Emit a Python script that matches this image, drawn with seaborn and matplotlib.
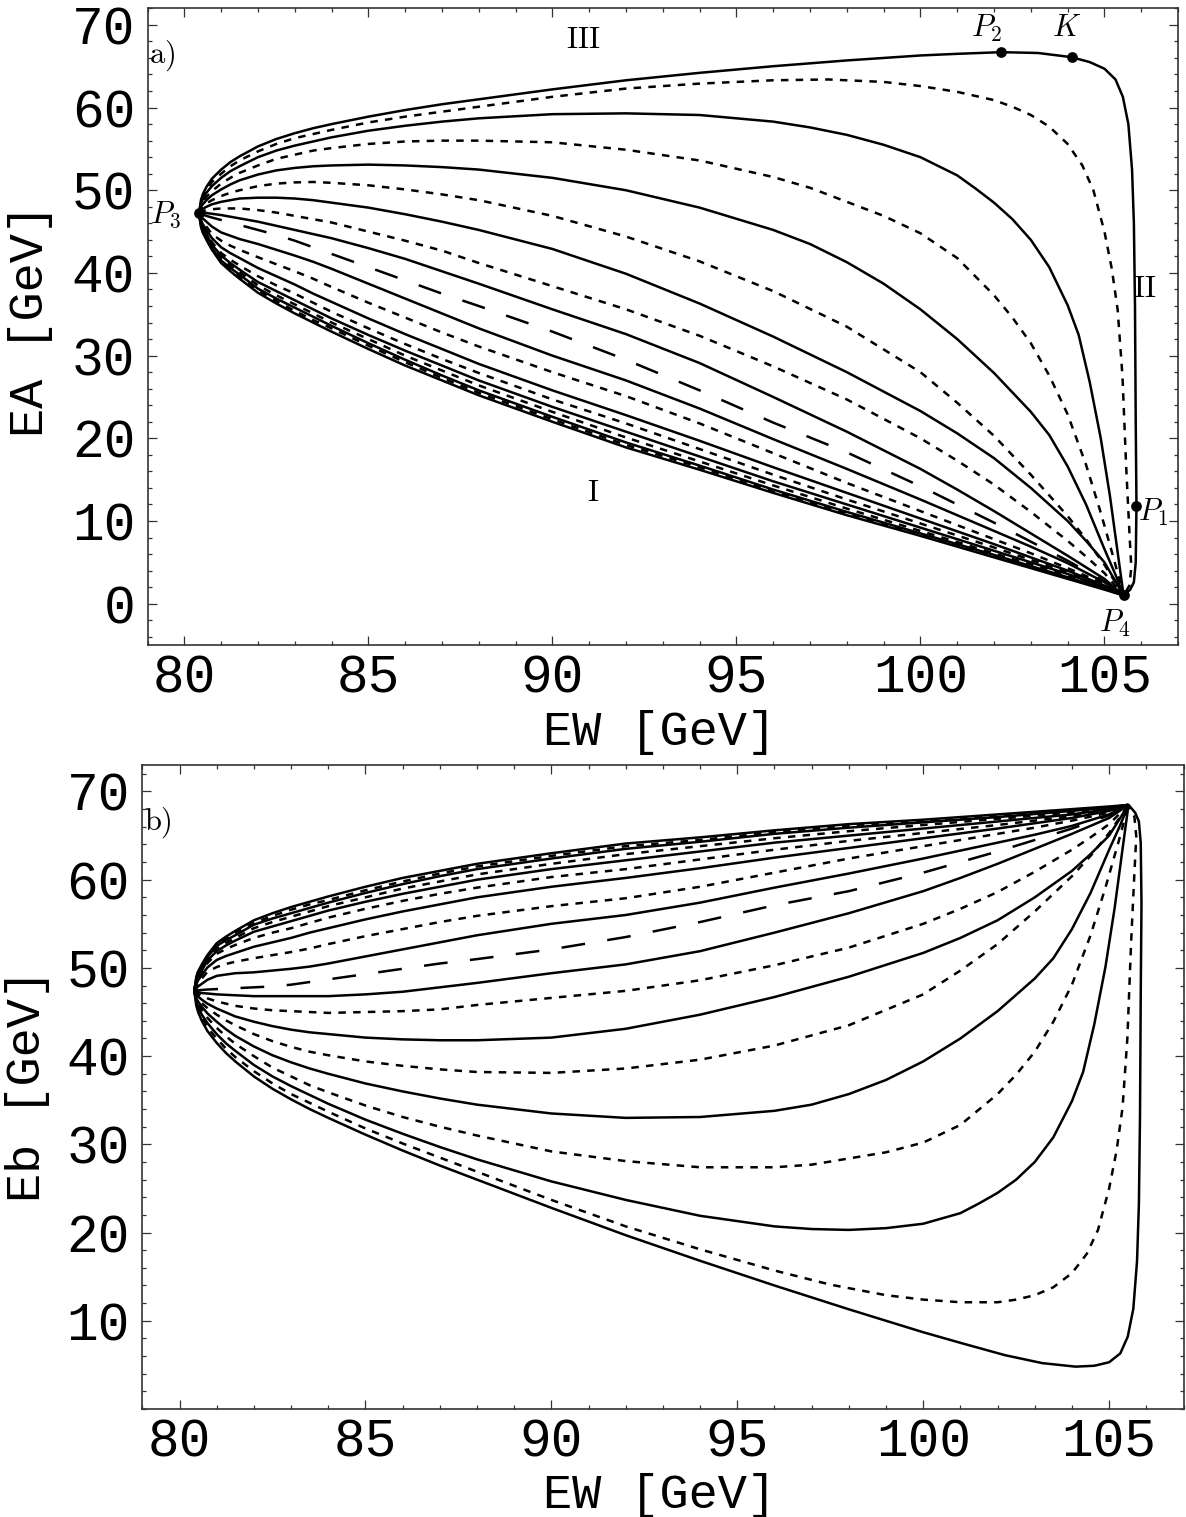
import matplotlib
matplotlib.use("Agg")
import matplotlib.pyplot as plt
import seaborn as sns
from matplotlib.ticker import MultipleLocator, FixedLocator

# ---------------- data ----------------
# common EW grid (GeV) for the curves that end smoothly at P4
ew_grid = [80.4, 80.45, 80.5, 80.6, 80.75, 81.0, 81.25, 81.5, 82.0, 82.5, 83.0, 83.5, 84.0, 85.0,
           86.0, 87.0, 88.0, 90.0, 92.0, 94.0, 96.0, 98.0, 100.0, 101.0, 102.0, 103.0, 104.0,
           104.5, 105.0, 105.52]

# panel a) : EA on ew_grid
ea_sm9 = [47.2, 45.6, 44.9, 44.0, 42.8, 41.2, 40.2, 39.3, 37.6, 36.3, 35.1, 34.0, 32.9, 30.8, 28.8, 27.0, 25.2, 22.0, 18.9, 16.2, 13.4, 10.7, 8.2, 6.9, 5.6, 4.3, 3.0, 2.35, 1.7, 1.0]
ea_dm8 = [47.2, 45.7, 45.0, 44.15, 42.9, 41.4, 40.4, 39.5, 37.9, 36.6, 35.4, 34.3, 33.3, 31.2, 29.2, 27.3, 25.5, 22.3, 19.2, 16.5, 13.6, 10.9, 8.4, 7.1, 5.8, 4.45, 3.1, 2.45, 1.8, 1.0]
ea_sm7 = [47.2, 45.8, 45.1, 44.3, 43.0, 41.5, 40.6, 39.8, 38.1, 36.9, 35.8, 34.7, 33.6, 31.5, 29.5, 27.6, 25.8, 22.6, 19.5, 16.7, 13.8, 11.1, 8.5, 7.2, 5.9, 4.55, 3.2, 2.5, 1.8, 1.0]
ea_dm6 = [47.2, 45.9, 45.3, 44.5, 43.2, 41.8, 40.9, 40.1, 38.5, 37.3, 36.2, 35.1, 34.0, 32.0, 30.0, 28.2, 26.4, 23.2, 20.1, 17.2, 14.3, 11.5, 8.8, 7.45, 6.1, 4.75, 3.4, 2.65, 1.9, 1.0]
ea_sm5 = [47.2, 46.0, 45.4, 44.7, 43.4, 42.1, 41.2, 40.4, 38.9, 37.8, 36.7, 35.6, 34.5, 32.5, 30.6, 28.8, 27.0, 23.8, 20.8, 17.8, 14.8, 12.0, 9.2, 7.8, 6.4, 5.0, 3.6, 2.8, 2.0, 1.0]
ea_dm4 = [47.2, 46.2, 45.6, 44.9, 43.7, 42.4, 41.6, 40.9, 39.6, 38.5, 37.5, 36.4, 35.3, 33.3, 31.4, 29.6, 27.9, 24.7, 21.8, 18.7, 15.6, 12.6, 9.7, 8.25, 6.8, 5.3, 3.8, 2.95, 2.1, 1.0]
ea_sm3 = [47.2, 46.4, 45.9, 45.2, 44.2, 43.1, 42.4, 41.8, 40.6, 39.6, 38.6, 37.5, 36.5, 34.5, 32.6, 30.8, 29.0, 25.8, 22.8, 19.7, 16.5, 13.4, 10.3, 8.75, 7.2, 5.6, 4.0, 3.1, 2.2, 1.0]
ea_dm2 = [47.2, 46.7, 46.3, 45.6, 44.7, 43.9, 43.3, 42.8, 41.9, 41.05, 40.2, 39.3, 38.3, 36.4, 34.6, 32.8, 31.1, 28.0, 25.1, 21.8, 18.2, 14.6, 11.2, 9.5, 7.8, 6.1, 4.3, 3.35, 2.4, 1.0]
ea_sm1 = [47.2, 46.9, 46.6, 46.2, 45.6, 44.9, 44.5, 44.1, 43.5, 42.8, 42.1, 41.35, 40.5, 38.7, 36.9, 35.1, 33.3, 30.0, 27.0, 23.6, 19.9, 16.3, 12.6, 10.7, 8.8, 6.9, 4.9, 3.75, 2.6, 1.0]
ea_ld  = [47.2, 47.1, 47.05, 46.9, 46.7, 46.4, 46.1, 45.8, 45.2, 44.6, 43.9, 43.1, 42.3, 40.7, 39.1, 37.5, 36.0, 32.9, 29.5, 25.8, 21.9, 18.3, 14.2, 12.0, 9.8, 7.5, 5.2, 3.95, 2.7, 1.0]
ea_s1  = [47.2, 47.25, 47.25, 47.25, 47.15, 47.0, 46.8, 46.6, 46.2, 45.7, 45.2, 44.7, 44.2, 43.0, 41.7, 40.2, 38.7, 35.6, 32.6, 29.1, 25.0, 20.8, 16.3, 13.8, 11.2, 8.5, 5.8, 4.4, 3.0, 1.0]
ea_d2  = [47.2, 47.35, 47.45, 47.6, 47.7, 47.8, 47.8, 47.8, 47.6, 47.3, 46.9, 46.5, 46.1, 45.0, 43.9, 42.7, 41.2, 38.4, 35.6, 32.4, 28.7, 24.7, 20.0, 17.3, 14.4, 11.1, 7.6, 5.7, 3.7, 1.0]
ea_s3  = [47.2, 47.5, 47.75, 48.0, 48.3, 48.6, 48.8, 49.0, 49.1, 49.1, 49.0, 48.8, 48.5, 47.9, 47.1, 46.2, 45.2, 42.9, 39.9, 36.3, 32.3, 28.0, 23.3, 20.6, 17.6, 14.0, 10.0, 7.6, 5.0, 1.0]
ea_d4  = [47.2, 47.8, 48.0, 48.4, 48.8, 49.3, 49.7, 50.0, 50.5, 50.8, 50.95, 51.0, 50.9, 50.6, 50.1, 49.5, 48.8, 46.9, 44.4, 41.4, 37.8, 33.5, 28.0, 24.3, 20.3, 15.6, 10.6, 7.8, 4.7, 1.0]

# panel b) : Eb on ew_grid
eb_sm9 = [47.4, 48.95, 49.6, 50.4, 51.45, 52.8, 53.55, 54.2, 55.4, 56.2, 56.9, 57.5, 58.1, 59.2, 60.2, 61.0, 61.8, 63.0, 64.1, 64.8, 65.6, 66.3, 66.8, 67.1, 67.4, 67.7, 68.0, 68.15, 68.3, 68.48]
eb_dm8 = [47.4, 48.85, 49.5, 50.25, 51.35, 52.6, 53.35, 54.0, 55.1, 55.9, 56.6, 57.2, 57.7, 58.8, 59.8, 60.7, 61.5, 62.7, 63.8, 64.5, 65.4, 66.1, 66.6, 66.9, 67.2, 67.55, 67.9, 68.05, 68.2, 68.48]
eb_sm7 = [47.4, 48.75, 49.4, 50.1, 51.25, 52.5, 53.15, 53.7, 54.9, 55.6, 56.2, 56.8, 57.4, 58.5, 59.5, 60.4, 61.2, 62.4, 63.5, 64.3, 65.2, 65.9, 66.5, 66.8, 67.1, 67.45, 67.8, 68.0, 68.2, 68.48]
eb_dm6 = [47.4, 48.65, 49.2, 49.9, 51.05, 52.2, 52.85, 53.4, 54.5, 55.2, 55.8, 56.4, 57.0, 58.0, 59.0, 59.8, 60.6, 61.8, 62.9, 63.8, 64.7, 65.5, 66.2, 66.55, 66.9, 67.25, 67.6, 67.85, 68.1, 68.48]
eb_sm5 = [47.4, 48.55, 49.1, 49.7, 50.85, 51.9, 52.55, 53.1, 54.1, 54.7, 55.3, 55.9, 56.5, 57.5, 58.4, 59.2, 60.0, 61.2, 62.2, 63.2, 64.2, 65.0, 65.8, 66.2, 66.6, 67.0, 67.4, 67.7, 68.0, 68.48]
eb_dm4 = [47.4, 48.35, 48.9, 49.5, 50.55, 51.6, 52.15, 52.6, 53.4, 54.0, 54.5, 55.1, 55.7, 56.7, 57.6, 58.4, 59.1, 60.3, 61.2, 62.3, 63.4, 64.4, 65.3, 65.75, 66.2, 66.7, 67.2, 67.55, 67.9, 68.48]
eb_sm3 = [47.4, 48.15, 48.6, 49.2, 50.05, 50.9, 51.35, 51.7, 52.4, 52.9, 53.4, 54.0, 54.5, 55.5, 56.4, 57.2, 58.0, 59.2, 60.2, 61.3, 62.5, 63.6, 64.7, 65.25, 65.8, 66.4, 67.0, 67.4, 67.8, 68.48]
eb_dm2 = [47.4, 47.85, 48.2, 48.8, 49.55, 50.1, 50.45, 50.7, 51.1, 51.45, 51.8, 52.2, 52.7, 53.6, 54.4, 55.2, 55.9, 57.0, 57.9, 59.2, 60.8, 62.4, 63.8, 64.5, 65.2, 65.9, 66.7, 67.15, 67.6, 68.48]
eb_sm1 = [47.4, 47.65, 47.9, 48.2, 48.65, 49.1, 49.25, 49.4, 49.5, 49.7, 49.9, 50.15, 50.5, 51.3, 52.1, 52.9, 53.7, 55.0, 56.0, 57.4, 59.1, 60.7, 62.4, 63.3, 64.2, 65.1, 66.1, 66.75, 67.4, 68.48]
eb_ld  = [47.4, 47.45, 47.45, 47.5, 47.55, 47.6, 47.65, 47.7, 47.8, 47.9, 48.1, 48.4, 48.7, 49.3, 49.9, 50.5, 51.0, 52.1, 53.5, 55.2, 57.1, 58.7, 60.8, 62.0, 63.2, 64.5, 65.8, 66.55, 67.3, 68.48]
eb_s1  = [47.4, 47.3, 47.25, 47.15, 47.1, 47.0, 46.95, 46.9, 46.8, 46.8, 46.8, 46.8, 46.8, 47.0, 47.3, 47.8, 48.3, 49.4, 50.4, 51.9, 54.0, 56.2, 58.7, 60.2, 61.8, 63.5, 65.2, 66.1, 67.0, 68.48]
eb_d2  = [47.4, 47.2, 47.05, 46.8, 46.55, 46.2, 45.95, 45.7, 45.4, 45.2, 45.1, 45.0, 44.9, 45.0, 45.1, 45.3, 45.8, 46.6, 47.4, 48.6, 50.3, 52.3, 55.0, 56.7, 58.6, 60.9, 63.4, 64.8, 66.3, 68.48]
eb_s3  = [47.4, 47.05, 46.75, 46.4, 45.95, 45.4, 44.95, 44.5, 43.9, 43.4, 43.0, 42.7, 42.5, 42.1, 41.9, 41.8, 41.8, 42.1, 43.1, 44.7, 46.7, 49.0, 51.7, 53.4, 55.4, 58.0, 61.0, 62.9, 65.0, 68.48]
eb_d4  = [47.4, 46.75, 46.5, 46.0, 45.45, 44.7, 44.05, 43.5, 42.5, 41.7, 41.05, 40.5, 40.1, 39.4, 38.9, 38.5, 38.2, 38.1, 38.6, 39.6, 41.2, 43.5, 47.0, 49.7, 52.7, 56.4, 60.4, 62.7, 65.3, 68.48]

# curves with their own EW sampling (steep right-hand parts)
ew_s5 = [80.4, 80.45, 80.5, 80.6, 80.75, 81.0, 81.25, 81.5, 82.0, 82.5, 83.0, 83.5, 84.0, 85.0, 86.0,
         87.0, 88.0, 90.0, 92.0, 94.0, 96.0, 97.0, 98.0, 99.0, 100.0, 101.0, 102.0, 103.0, 103.5,
         104.0, 104.5, 105.0, 105.3, 105.52]
ea_s5 = [47.2, 48.0, 48.3, 48.8, 49.4, 50.1, 50.7, 51.2, 51.9, 52.4, 52.7, 52.9, 53.0, 53.1, 53.0,
         52.8, 52.5, 51.5, 50.0, 47.9, 45.2, 43.5, 41.3, 38.7, 35.6, 32.0, 27.9, 23.2, 20.4,
         16.6, 12.0, 6.6, 3.5, 1.0]
eb_s5 = [47.4, 46.55, 46.2, 45.6, 44.85, 43.9, 43.05, 42.3, 41.1, 40.1, 39.3, 38.6, 38.0, 36.9, 36.0,
         35.2, 34.5, 33.5, 33.0, 33.1, 33.8, 34.5, 35.7, 37.3, 39.4, 42.0, 45.1, 48.8, 51.1,
         54.4, 58.5, 63.4, 66.2, 68.48]

ew_d6 = [80.4, 80.45, 80.5, 80.6, 80.75, 81.0, 81.25, 81.5, 82.0, 82.5, 83.0, 83.5, 84.0, 85.0, 86.0,
         87.0, 88.0, 90.0, 92.0, 94.0, 96.0, 97.0, 98.0, 99.0, 100.0, 101.0, 102.0, 102.5, 103.0,
         103.5, 104.0, 104.5, 104.9, 105.25, 105.52]
ea_d6 = [47.2, 48.2, 48.6, 49.2, 49.9, 50.8, 51.5, 52.1, 53.0, 53.8, 54.3, 54.8, 55.1, 55.6, 55.9,
         56.0, 56.0, 55.8, 54.9, 53.6, 51.6, 50.3, 48.6, 46.9, 44.8, 41.8, 37.3, 34.6, 31.5,
         27.6, 22.9, 16.8, 11.0, 5.5, 1.0]
eb_d6 = [47.4, 46.35, 45.9, 45.2, 44.35, 43.2, 42.25, 41.4, 40.0, 38.7, 37.7, 36.7, 35.9, 34.4, 33.1,
         32.0, 31.0, 29.2, 28.1, 27.4, 27.4, 27.7, 28.4, 29.1, 30.2, 32.2, 35.7, 37.9, 40.5,
         43.9, 48.1, 53.7, 59.1, 64.25, 68.48]

ew_s7 = [80.4, 80.45, 80.5, 80.6, 80.75, 81.0, 81.25, 81.5, 82.0, 82.5, 83.0, 83.5, 84.0, 85.0, 86.0,
         87.0, 88.0, 90.0, 92.0, 94.0, 96.0, 97.0, 98.0, 99.0, 100.0, 101.0, 101.5, 102.0, 102.5,
         103.0, 103.5, 104.0, 104.3, 104.6, 104.9, 105.15, 105.35, 105.52]
ea_s7 = [47.2, 48.4, 48.9, 49.7, 50.5, 51.5, 52.3, 52.9, 54.0, 54.8, 55.4, 55.9, 56.4, 57.2, 57.8,
         58.3, 58.7, 59.2, 59.3, 59.1, 58.3, 57.6, 56.7, 55.5, 54.0, 51.8, 50.2, 48.5, 46.5,
         44.0, 40.7, 36.1, 32.5, 26.8, 20.0, 13.0, 6.5, 1.0]
eb_s7 = [47.4, 46.15, 45.6, 44.7, 43.75, 42.5, 41.45, 40.6, 39.0, 37.7, 36.6, 35.6, 34.6, 32.8, 31.2,
         29.7, 28.3, 25.8, 23.7, 21.9, 20.7, 20.4, 20.3, 20.5, 21.0, 22.2, 23.3, 24.5, 26.0,
         28.0, 30.8, 34.9, 38.2, 43.6, 50.1, 56.85, 63.15, 68.48]

ew_d8 = [80.4, 80.45, 80.5, 80.6, 80.75, 81.0, 81.25, 81.5, 82.0, 82.5, 83.0, 83.5, 84.0, 85.0, 86.0,
         87.0, 88.0, 90.0, 92.0, 94.0, 96.0, 97.5, 99.0, 100.0, 101.0, 102.0, 102.5, 103.0, 103.5,
         104.0, 104.4, 104.7, 105.0, 105.2, 105.36, 105.49, 105.59, 105.68, 105.73, 105.68, 105.52]
ea_d8 = [47.2, 48.5, 49.1, 50.0, 51.0, 52.0, 52.9, 53.6, 54.7, 55.6, 56.3, 56.8, 57.3, 58.2, 58.9,
         59.5, 60.1, 61.3, 62.3, 62.9, 63.3, 63.4, 63.1, 62.6, 61.9, 60.9, 60.1, 59.1, 57.7,
         55.6, 53.0, 50.0, 45.0, 40.5, 35.5, 27.5, 16.6, 8.5, 4.4, 2.2, 1.0]
eb_d8 = [47.4, 46.05, 45.4, 44.4, 43.25, 42.0, 40.85, 39.9, 38.3, 36.9, 35.7, 34.7, 33.7, 31.8, 30.1,
         28.5, 26.9, 23.7, 20.7, 18.1, 15.7, 14.1, 12.9, 12.4, 12.1, 12.1, 12.4, 12.9, 13.8,
         15.4, 17.6, 20.3, 25.0, 29.3, 34.14, 42.01, 52.81, 60.82, 64.87, 67.12, 68.48]

ew_s9 = [80.4, 80.45, 80.5, 80.6, 80.75, 81.0, 81.25, 81.5, 82.0, 82.5, 83.0, 83.5, 84.0, 85.0, 86.0,
         87.0, 88.0, 90.0, 92.0, 94.0, 96.0, 98.0, 100.0, 101.0, 102.2, 103.2, 104.1, 104.6, 105.0,
         105.3, 105.5, 105.65, 105.75, 105.8, 105.83, 105.85, 105.87, 105.85, 105.8, 105.7, 105.52]
ea_s9 = [47.2, 48.8, 49.5, 50.4, 51.4, 52.5, 53.4, 54.1, 55.3, 56.2, 56.9, 57.5, 58.0, 58.9, 59.7,
         60.4, 61.0, 62.2, 63.3, 64.2, 65.0, 65.7, 66.3, 66.5, 66.7, 66.6, 66.1, 65.5, 64.7,
         63.4, 61.3, 58.0, 52.5, 46.0, 36.0, 22.0, 11.85, 5.0, 2.6, 1.7, 1.0]
eb_s9 = [47.4, 45.75, 45.0, 44.0, 42.85, 41.5, 40.35, 39.4, 37.7, 36.3, 35.1, 34.0, 33.0, 31.1, 29.3,
         27.6, 26.0, 22.8, 19.7, 16.8, 14.0, 11.3, 8.7, 7.5, 6.1, 5.2, 4.8, 4.9, 5.3,
         6.3, 8.2, 11.35, 16.75, 23.2, 33.17, 47.15, 57.28, 64.15, 66.6, 67.6, 68.48]

# marked points in panel a)
pt_names = ["P1", "P2", "K", "P3", "P4"]
pt_ew = [105.87, 102.2, 104.13, 80.4, 105.52]
pt_ea = [11.85, 66.7, 66.1, 47.2, 1.0]

# ---------------- style ----------------
sns.set_theme(style="ticks")
plt.rcParams["font.family"] = ["Liberation Mono", "DejaVu Sans Mono"]
plt.rcParams["mathtext.fontset"] = "cm"
plt.rcParams["text.color"] = "black"
plt.rcParams["axes.labelcolor"] = "black"

LW = 1.8
DASH = {"s": None, "d": [3.0, 2.9], "l": [9.5, 9.0]}

fig = plt.figure(figsize=(11.86, 15.17), dpi=100)
ax1 = fig.add_axes([0.1244, 0.5748, 0.8689, 0.4197])
ax2 = fig.add_axes([0.1200, 0.0712, 0.8779, 0.4245])


def draw(ax, x, y, kind):
    sns.lineplot(x=x, y=y, ax=ax, sort=False, estimator=None, color="black",
                 lw=LW, solid_capstyle="butt", solid_joinstyle="round")
    line = ax.lines[-1]
    if DASH[kind] is not None:
        line.set_dashes(DASH[kind])
        line.set_dash_capstyle("butt")


top = [(ew_grid, ea_sm9, "s"), (ew_grid, ea_dm8, "d"), (ew_grid, ea_sm7, "s"),
       (ew_grid, ea_dm6, "d"), (ew_grid, ea_sm5, "s"), (ew_grid, ea_dm4, "d"),
       (ew_grid, ea_sm3, "s"), (ew_grid, ea_dm2, "d"), (ew_grid, ea_sm1, "s"),
       (ew_grid, ea_ld, "l"), (ew_grid, ea_s1, "s"), (ew_grid, ea_d2, "d"),
       (ew_grid, ea_s3, "s"), (ew_grid, ea_d4, "d"), (ew_s5, ea_s5, "s"),
       (ew_d6, ea_d6, "d"), (ew_s7, ea_s7, "s"), (ew_d8, ea_d8, "d"), (ew_s9, ea_s9, "s")]
bot = [(ew_grid, eb_sm9, "s"), (ew_grid, eb_dm8, "d"), (ew_grid, eb_sm7, "s"),
       (ew_grid, eb_dm6, "d"), (ew_grid, eb_sm5, "s"), (ew_grid, eb_dm4, "d"),
       (ew_grid, eb_sm3, "s"), (ew_grid, eb_dm2, "d"), (ew_grid, eb_sm1, "s"),
       (ew_grid, eb_ld, "l"), (ew_grid, eb_s1, "s"), (ew_grid, eb_d2, "d"),
       (ew_grid, eb_s3, "s"), (ew_grid, eb_d4, "d"), (ew_s5, eb_s5, "s"),
       (ew_d6, eb_d6, "d"), (ew_s7, eb_s7, "s"), (ew_d8, eb_d8, "d"), (ew_s9, eb_s9, "s")]

for x, y, k in top:
    draw(ax1, x, y, k)
for x, y, k in bot:
    draw(ax2, x, y, k)

sns.scatterplot(x=pt_ew, y=pt_ea, ax=ax1, color="black", s=60, edgecolor="black",
                linewidth=0, zorder=5)

# ---------------- axes ----------------
for ax in (ax1, ax2):
    ax.set_xlim(79, 107)
    ax.xaxis.set_major_locator(MultipleLocator(5))
    ax.xaxis.set_minor_locator(MultipleLocator(1))
    ax.yaxis.set_minor_locator(MultipleLocator(2))
    ax.tick_params(which="both", direction="in", top=True, right=True,
                   width=0.9, color="#333333", labelcolor="black")
    ax.tick_params(which="major", length=6.5, labelsize=38, pad=6)
    ax.tick_params(which="minor", length=3.2)
    ax.tick_params(axis="y", which="major", pad=9)
    for sp in ax.spines.values():
        sp.set_linewidth(1.2)
        sp.set_color("#333333")
        sp.set_visible(True)
    ax.grid(False)

ax1.set_ylim(-5, 72)
ax1.yaxis.set_major_locator(FixedLocator([0, 10, 20, 30, 40, 50, 60, 70]))
ax2.set_ylim(0, 73)
ax2.yaxis.set_major_locator(FixedLocator([10, 20, 30, 40, 50, 60, 70]))

ax1.set_xlabel("EW [GeV]", fontsize=35)
ax1.set_ylabel("EA [GeV]", fontsize=35)
ax2.set_xlabel("EW [GeV]", fontsize=35)
ax2.set_ylabel("Eb [GeV]", fontsize=35)
ax1.xaxis.set_label_coords(0.497, -0.102)
ax2.xaxis.set_label_coords(0.497, -0.099)
ax1.yaxis.set_label_coords(-0.092, 0.51)
ax2.yaxis.set_label_coords(-0.089, 0.503)

# ---------------- annotations ----------------
ann = dict(fontsize=22, color="black")
ax1.text(79.05, 66.3, r"$\mathrm{a)}$", ha="left", va="center", **ann)
ax2.text(79.05, 66.5, r"$\mathrm{b)}$", ha="left", va="center", **ann)
ax1.text(90.84, 68.2, r"$\mathrm{III}$", ha="center", va="center", **ann)
ax1.text(106.1, 38.0, r"$\mathrm{II}$", ha="center", va="center", **ann)
ax1.text(91.1, 13.4, r"$\mathrm{I}$", ha="center", va="center", **ann)
ax1.text(101.8, 69.6, r"$P_2$", ha="center", va="center", **ann)
ax1.text(103.97, 69.6, r"$K$", ha="center", va="center", **ann)
ax1.text(105.9, 11.0, r"$P_1$", ha="left", va="center", **ann)
ax1.text(105.28, -2.4, r"$P_4$", ha="center", va="center", **ann)
ax1.text(79.5, 47.0, r"$P_3$", ha="center", va="center", **ann)

fig.savefig("out.png", dpi=100)
